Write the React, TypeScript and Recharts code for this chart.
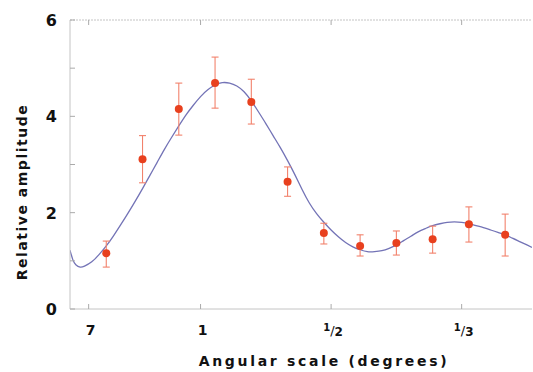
import React from 'react';
import { ComposedChart, Line, Scatter, ErrorBar, XAxis, YAxis } from 'recharts';

// Multipole positions of the measurements (l = 180 / angle in degrees)
const multipoles = [50, 100, 150, 200, 250, 300, 350, 400, 450, 500, 550, 600];
const amplitudes = [1.16, 3.11, 4.15, 4.69, 4.3, 2.64, 1.58, 1.31, 1.37, 1.45, 1.76, 1.54];
const errLow = [0.29, 0.49, 0.54, 0.52, 0.46, 0.3, 0.23, 0.21, 0.25, 0.29, 0.37, 0.44];
const errHigh = [0.25, 0.49, 0.54, 0.54, 0.47, 0.31, 0.2, 0.23, 0.25, 0.27, 0.36, 0.43];

// Model curve
const curveL = [0, 4, 8, 14, 20, 30, 40, 50, 60, 70, 80, 90, 100, 110, 120, 130, 140, 150, 160, 170, 180, 190, 200, 210, 220, 230, 240, 250, 260, 270, 280, 290, 300, 310, 320, 330, 340, 350, 360, 370, 380, 390, 400, 410, 420, 430, 440, 450, 460, 470, 480, 490, 500, 510, 520, 530, 540, 550, 560, 570, 580, 590, 600, 610, 620, 630, 637];
const curveV = [1.22, 1.02, 0.92, 0.87, 0.89, 0.98, 1.13, 1.31, 1.52, 1.75, 1.99, 2.24, 2.5, 2.77, 3.04, 3.31, 3.56, 3.8, 4.03, 4.23, 4.41, 4.55, 4.65, 4.7, 4.69, 4.63, 4.51, 4.32, 4.09, 3.85, 3.6, 3.35, 3.08, 2.79, 2.48, 2.2, 1.98, 1.8, 1.64, 1.5, 1.38, 1.29, 1.23, 1.19, 1.19, 1.21, 1.26, 1.33, 1.42, 1.51, 1.6, 1.67, 1.73, 1.77, 1.8, 1.81, 1.8, 1.77, 1.73, 1.69, 1.64, 1.59, 1.54, 1.47, 1.4, 1.33, 1.28];

// Angular scale ticks (degrees) and labels
const tickAngles = [7, 1, 1 / 2, 1 / 3];
const xTickLabels = ['7', '1', '1/2', '1/3'];
const yTicks = [0, 1, 2, 3, 4, 5, 6];
const yLabelTicks = [0, 2, 4, 6];

const points = multipoles.map((l, i) => ({ l, v: amplitudes[i], err: [errLow[i], errHigh[i]] }));
const curve = curveL.map((l, i) => ({ l, v: curveV[i] }));
const xTicks = tickAngles.map((a) => 180 / a);

const FONT = '"DejaVu Sans", Verdana, sans-serif';
const TICK_COLOR = '#aaaaaa';
const AXIS_COLOR = '#c4c4c4';

const BottomTick = (props: any) => {
  const { x, y, index } = props;
  const label = xTickLabels[index] ?? '';
  const parts = label.split('/');
  return (
    <g>
      <line x1={x} x2={x} y1={y} y2={y - 5} stroke={TICK_COLOR} />
      {parts.length === 1 ? (
        <text x={x + 2} y={y + 26} textAnchor="middle" fontFamily={FONT} fontWeight="bold" fontSize={14} fill="#111">
          {label}
        </text>
      ) : (
        <text x={x + 2} y={y + 26} textAnchor="middle" fontFamily={FONT} fontWeight="bold" fill="#111">
          <tspan fontSize={10} dy={-4}>{parts[0]}</tspan>
          <tspan fontSize={13} dy={4} fontWeight="normal">/</tspan>
          <tspan fontSize={12} dy={1}>{parts[1]}</tspan>
        </text>
      )}
    </g>
  );
};

const TopTick = (props: any) => {
  const { x, y } = props;
  return <line x1={x} x2={x} y1={y} y2={y + 5} stroke={TICK_COLOR} />;
};

const LeftTick = (props: any) => {
  const { x, y, payload } = props;
  const show = yLabelTicks.includes(payload.value);
  return (
    <g>
      <line x1={x} x2={x + 5} y1={y} y2={y} stroke={TICK_COLOR} />
      {show && (
        <text x={x - 13} y={y + 6} textAnchor="end" fontFamily={FONT} fontWeight="bold" fontSize={16} fill="#111">
          {payload.value}
        </text>
      )}
    </g>
  );
};

const RightTick = (props: any) => {
  const { x, y } = props;
  return <line x1={x} x2={x - 5} y1={y} y2={y} stroke={TICK_COLOR} />;
};

const Dot = (props: any) => {
  const { cx, cy } = props;
  return <circle cx={cx} cy={cy} r={4} fill="#e8401e" />;
};

const YTitle = () => (
  <text
    x={22}
    y={192}
    dy="0.36em"
    transform="rotate(-90, 22, 192)"
    textAnchor="middle"
    fontFamily={FONT}
    fontWeight="bold"
    fontSize={14}
    letterSpacing={1.5}
    fill="#111"
  >
    Relative amplitude
  </text>
);

const XTitle = () => (
  <text x={324} y={366} textAnchor="middle" fontFamily={FONT} fontWeight="bold" fontSize={14} letterSpacing={2.7} fill="#111">
    Angular scale (degrees)
  </text>
);

export default function App() {
  return (
    <div style={{ position: 'absolute', left: 0, top: 0, width: 533, height: 372, background: '#fff' }}>
      <ComposedChart width={533} height={372} margin={{ top: 19, right: 0, bottom: 0, left: 0 }}>
        <XAxis
          xAxisId="bottom"
          dataKey="l"
          type="number"
          domain={[0, 637]}
          ticks={xTicks}
          allowDataOverflow
          height={63}
          tickSize={0}
          tickMargin={0}
          tickLine={false}
          axisLine={{ stroke: AXIS_COLOR }}
          tick={<BottomTick />}
          interval={0}
          label={<XTitle />}
        />
        <XAxis
          xAxisId="top"
          orientation="top"
          dataKey="l"
          type="number"
          domain={[0, 637]}
          ticks={xTicks}
          allowDataOverflow
          height={1}
          tickSize={0}
          tickMargin={0}
          tickLine={false}
          axisLine={{ stroke: AXIS_COLOR, strokeDasharray: '2 1' }}
          tick={<TopTick />}
          interval={0}
        />
        <YAxis
          yAxisId="left"
          type="number"
          domain={[0, 6]}
          ticks={yTicks}
          width={70}
          tickSize={0}
          tickMargin={0}
          tickLine={false}
          axisLine={{ stroke: AXIS_COLOR }}
          tick={<LeftTick />}
          interval={0}
          label={<YTitle />}
        />
        <YAxis
          yAxisId="right"
          orientation="right"
          type="number"
          domain={[0, 6]}
          ticks={yTicks}
          width={1}
          tickSize={0}
          tickMargin={0}
          tickLine={false}
          axisLine={false}
          tick={<RightTick />}
          interval={0}
        />
        <Line
          xAxisId="bottom"
          yAxisId="left"
          data={curve}
          dataKey="v"
          type="natural"
          stroke="#7373b6"
          strokeWidth={1.3}
          dot={false}
          activeDot={false}
          isAnimationActive={false}
        />
        <Scatter
          xAxisId="bottom"
          yAxisId="left"
          data={points}
          dataKey="v"
          shape={<Dot />}
          isAnimationActive={false}
        >
          <ErrorBar dataKey="err" direction="y" width={3.5} stroke="#f2826c" strokeWidth={1.1} />
        </Scatter>
      </ComposedChart>
    </div>
  );
}
